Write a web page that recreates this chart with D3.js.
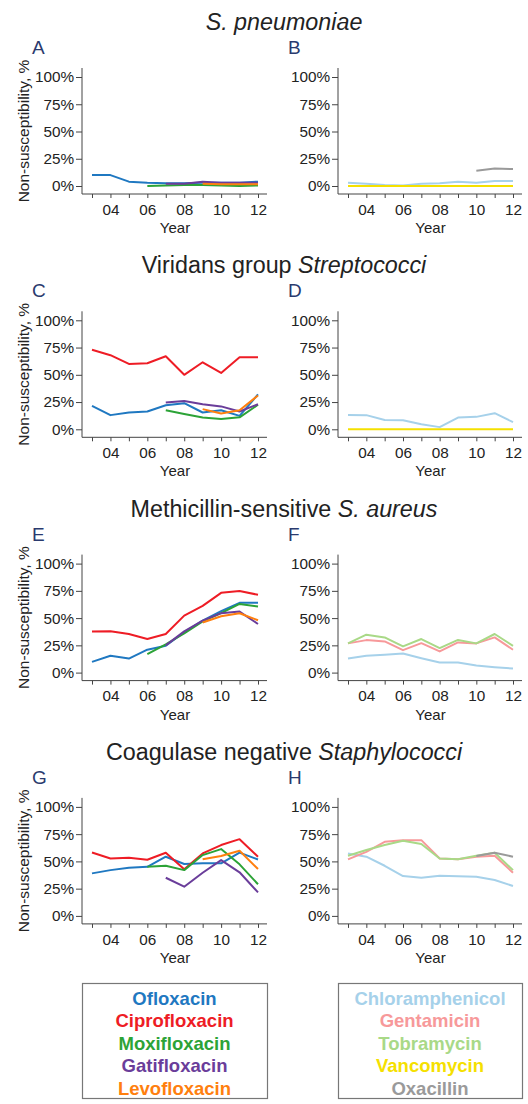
<!DOCTYPE html>
<html><head><meta charset="utf-8">
<script src="https://cdn.jsdelivr.net/npm/d3@7"></script>
<style>
html,body{margin:0;padding:0;background:#fff;}
svg{display:block;font-family:"Liberation Sans",Arial,Helvetica,sans-serif;}
</style></head>
<body><svg id="chart" width="528" height="1104"></svg>
<script>
// ---------- data ----------
const years = [2003,2004,2005,2006,2007,2008,2009,2010,2011,2012];
const yTicks = [0,25,50,75,100];
const xTickLabels = {2004:"04",2006:"06",2008:"08",2010:"10",2012:"12"};

const quinoloneNames = ["Ofloxacin","Ciprofloxacin","Moxifloxacin","Gatifloxacin","Levofloxacin"];
const quinoloneColors = ["#1f78c1","#ee1c25","#2ca337","#6a3d9a","#ff7f0e"];
const otherNames = ["Chloramphenicol","Gentamicin","Tobramycin","Vancomycin","Oxacillin"];
const otherColors = ["#a6d1ea","#f7999a","#a9d987","#f5e000","#9a9a9a"];

const panelLetters = ["A","B","C","D","E","F","G","H"];
const titleParts = [
  [["S. pneumoniae",true]],
  [["Viridans group ",false],["Streptococci",true]],
  [["Methicillin-sensitive ",false],["S. aureus",true]],
  [["Coagulase negative ",false],["Staphylococci",true]]
];

// Panel A (S. pneumoniae, quinolones)
const A_Ofloxacin     = [10,10,4,3,2.5,2.5,3,3,3,4];
const A_Ciprofloxacin = [null,null,null,null,null,null,null,null,null,null];
const A_Moxifloxacin  = [null,null,null,0,0.5,1,1,0.5,0,0.5];
const A_Gatifloxacin  = [null,null,null,null,2,2,4,3,3,3];
const A_Levofloxacin  = [null,null,null,null,null,null,2,1.5,1.5,1.5];
// Panel B (S. pneumoniae, others)
const B_Chloramphenicol = [3,2,1,0.5,2,2.5,4,3,4.5,4.5];
const B_Vancomycin      = [0,0,0,0,0,0,0,0,0,0];
const B_Oxacillin       = [null,null,null,null,null,null,null,14,16,15.5];
// Panel C (Viridans streptococci, quinolones)
const C_Ofloxacin     = [21.5,13,15.4,16.3,22,24,15.4,17.5,12.3,32];
const C_Ciprofloxacin = [73,68,60,60.6,67,50,61.5,51.7,66,66];
const C_Moxifloxacin  = [null,null,null,null,17.5,14,10.8,9.5,11,22.5];
const C_Gatifloxacin  = [null,null,null,null,24.6,26,23,21,16.3,23];
const C_Levofloxacin  = [null,null,null,null,null,null,18.5,14.5,17.5,31];
// Panel D (Viridans streptococci, others)
const D_Chloramphenicol = [13.2,13,8.6,8.3,4.6,2,10.8,11.4,14.8,6.5];
const D_Vancomycin      = [0,0,0,0,0,0,0,0,0,0];
// Panel E (MSSA, quinolones)
const E_Ofloxacin     = [9.8,15.4,12.9,21,24.6,37,47.7,56.3,64,64];
const E_Ciprofloxacin = [37.8,38,35.4,30.8,35.4,52.3,61.2,73.2,74.8,71.4];
const E_Moxifloxacin  = [null,null,null,17,26,36,47,54.5,63,60.6];
const E_Gatifloxacin  = [null,null,null,null,25,37.8,47.7,54.5,56,44.6];
const E_Levofloxacin  = [null,null,null,null,null,null,46,51.7,54.5,48];
// Panel F (MSSA, others)
const F_Chloramphenicol = [13,15.4,16.3,17.5,13.2,9.2,9.2,6.5,5,3.7];
const F_Gentamicin      = [26.8,29.8,28.6,20.6,27,19.4,27.7,26.8,32.3,21];
const F_Tobramycin      = [26.8,34.8,32.3,24,30.8,22.5,30,26.8,35.4,24.6];
// Panel G (CoNS, quinolones)
const G_Ofloxacin     = [39,42,44.2,45,54.3,47.6,48.2,48.2,58,51.8];
const G_Ciprofloxacin = [58.2,52.7,53.4,51.5,57.9,42.7,57.3,65,70.4,54.3];
const G_Moxifloxacin  = [null,null,null,45,46,42,55.8,61.3,47.3,29];
const G_Gatifloxacin  = [null,null,null,null,35,26.8,39.6,51.2,40,21.6];
const G_Levofloxacin  = [null,null,null,null,null,null,52,55,59.8,43];
// Panel H (CoNS, others)
const H_Chloramphenicol = [57.3,54.3,46,36.6,35,36.9,36.3,36,33,27.4];
const H_Gentamicin      = [51.8,58.8,68,69.5,69.5,52.7,52,54.3,55.2,39.6];
const H_Tobramycin      = [55.2,60.4,65,69,65.9,52.7,52,55.2,58,42];
const H_Oxacillin       = [null,null,null,null,null,null,null,55,58,54.3];

const panels = [
  {letter:"A", kind:"q", series:[A_Ofloxacin,A_Ciprofloxacin,A_Moxifloxacin,A_Gatifloxacin,A_Levofloxacin]},
  {letter:"B", kind:"o", series:[B_Chloramphenicol,null,null,B_Vancomycin,B_Oxacillin]},
  {letter:"C", kind:"q", series:[C_Ofloxacin,C_Ciprofloxacin,C_Moxifloxacin,C_Gatifloxacin,C_Levofloxacin]},
  {letter:"D", kind:"o", series:[D_Chloramphenicol,null,null,D_Vancomycin,null]},
  {letter:"E", kind:"q", series:[E_Ofloxacin,E_Ciprofloxacin,E_Moxifloxacin,E_Gatifloxacin,E_Levofloxacin]},
  {letter:"F", kind:"o", series:[F_Chloramphenicol,F_Gentamicin,F_Tobramycin,null,null]},
  {letter:"G", kind:"q", series:[G_Ofloxacin,G_Ciprofloxacin,G_Moxifloxacin,G_Gatifloxacin,G_Levofloxacin]},
  {letter:"H", kind:"o", series:[H_Chloramphenicol,H_Gentamicin,H_Tobramycin,null,H_Oxacillin]}
];

// ---------- layout ----------
const svg = d3.select("#chart");
const rowStep = 243.3;
const colAxisX = [82, 338];
const colX0 = [92, 348];
const colX1 = [258, 513];
const axisColor = "#444";

titleParts.forEach((parts,i)=>{
  const t = svg.append("text")
    .attr("x", 284).attr("y", 30 + i*rowStep)
    .attr("text-anchor","middle")
    .attr("font-size", 23.3).attr("fill","#222");
  parts.forEach(p=>t.append("tspan").text(p[0]).attr("font-style", p[1]?"italic":"normal"));
});

panels.forEach((p,i)=>{
  const row = Math.floor(i/2), col = i%2;
  const oy = row*rowStep;
  const ax = colAxisX[col];
  const x = d3.scaleLinear().domain([2003,2012]).range([colX0[col], colX1[col]]);
  const y = d3.scaleLinear().domain([0,100]).range([186+oy, 77+oy]);
  const g = svg.append("g");

  g.append("text").attr("x", ax-50).attr("y", 54+oy)
    .attr("font-size", 19).attr("fill","#2a3a6e").text(p.letter);

  // axis lines
  g.append("line").attr("x1",ax).attr("x2",ax).attr("y1",68+oy).attr("y2",194+oy)
    .attr("stroke",axisColor).attr("stroke-width",1);
  g.append("line").attr("x1",ax).attr("x2",colX1[col]+9).attr("y1",194+oy).attr("y2",194+oy)
    .attr("stroke",axisColor).attr("stroke-width",1);

  const yAxis = g.append("g").attr("transform",`translate(${ax},0)`)
    .call(d3.axisLeft(y).tickValues(yTicks).tickSize(6).tickPadding(2).tickFormat(d=>d+"%"));
  yAxis.select(".domain").remove();
  yAxis.selectAll("line").attr("stroke",axisColor);
  yAxis.selectAll("text").attr("font-size",15.3).attr("fill","#222").attr("font-family",null);

  const xAxis = g.append("g").attr("transform",`translate(0,${194+oy})`)
    .call(d3.axisBottom(x).tickValues(years).tickSize(4).tickPadding(6).tickFormat(d=>xTickLabels[d]||""));
  xAxis.select(".domain").remove();
  xAxis.selectAll("line").attr("stroke",axisColor);
  xAxis.selectAll("text").attr("font-size",15.3).attr("fill","#222").attr("font-family",null);

  g.append("text").attr("x",(colX0[col]+colX1[col])/2).attr("y",233+oy)
    .attr("text-anchor","middle").attr("font-size",15).attr("fill","#222").text("Year");

  if(col===0){
    g.append("text").attr("transform",`translate(29,${131+oy}) rotate(-90)`)
      .attr("text-anchor","middle").attr("font-size",15.5).attr("fill","#222")
      .text("Non-susceptibility, %");
  }

  const colors = p.kind==="q" ? quinoloneColors : otherColors;
  const line = d3.line().defined(d=>d[1]!=null).x(d=>x(d[0])).y(d=>y(d[1]));
  p.series.forEach((s,k)=>{
    if(!s) return;
    const pts = years.map((yr,j)=>[yr,s[j]]);
    if(pts.filter(d=>d[1]!=null).length===0) return;
    g.append("path").datum(pts).attr("d",line)
      .attr("fill","none").attr("stroke",colors[k]).attr("stroke-width",2)
      .attr("stroke-linejoin","round");
  });
});

// ---------- legends ----------
const legends = [
  {x0:82, x1:267, names:quinoloneNames, colors:quinoloneColors},
  {x0:338, x1:522, names:otherNames, colors:otherColors}
];
legends.forEach(L=>{
  svg.append("rect").attr("x",L.x0+0.5).attr("y",983.5).attr("width",L.x1-L.x0).attr("height",115)
    .attr("fill","none").attr("stroke","#777").attr("stroke-width",1.2);
  L.names.forEach((n,k)=>{
    svg.append("text").attr("x",(L.x0+L.x1)/2).attr("y",1004.5+k*22.5)
      .attr("text-anchor","middle").attr("font-size",18.5).attr("font-weight","bold")
      .attr("fill",L.colors[k]).text(n);
  });
});
</script></body></html>
